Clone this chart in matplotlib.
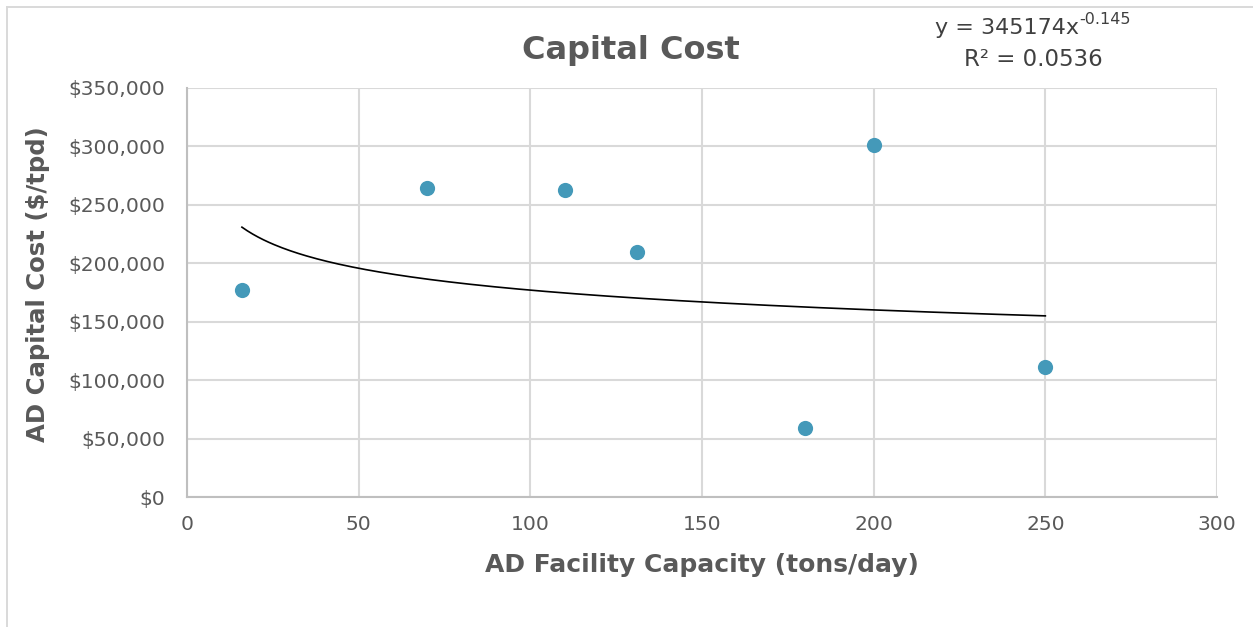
import numpy as np
import matplotlib.pyplot as plt
from matplotlib.lines import Line2D
from matplotlib.ticker import FuncFormatter

# facility capacity (tons/day) and capital cost ($/tpd)
capacity = [16, 70, 110, 131, 180, 200, 250]
capital_cost = [177000, 264500, 262700, 209700, 59000, 301500, 111200]

# power trendline y = a * x^b
fit_a = 345174
fit_b = -0.145
fit_r2 = 0.0536

plt.rcParams['font.family'] = ['DejaVu Sans']
text_gray = '#595959'
grid_gray = '#d9d9d9'
W, H = 1253, 627

fig = plt.figure(figsize=(W / 100, H / 100), dpi=100)
ax = fig.add_axes([187 / W, 1 - 497 / H, 1030 / W, 409 / H])

# outer chart frame: top and left edge
fig.lines.append(Line2D([7 / W, 1], [1 - 7 / H, 1 - 7 / H], transform=fig.transFigure,
                        color=grid_gray, linewidth=1.4))
fig.lines.append(Line2D([7 / W, 7 / W], [0, 1 - 7 / H], transform=fig.transFigure,
                        color=grid_gray, linewidth=1.4))

xs = np.linspace(min(capacity), max(capacity), 300)
ax.plot(xs, fit_a * xs ** fit_b, color='black', linewidth=1.2, zorder=2)
ax.scatter(capacity, capital_cost, s=120, color='#4499b9', zorder=3, linewidths=0)

ax.set_xlim(0, 300)
ax.set_ylim(0, 350000)
ax.set_xticks(range(0, 301, 50))
ax.set_yticks(range(0, 350001, 50000))
ax.yaxis.set_major_formatter(FuncFormatter(lambda v, p: '${:,.0f}'.format(v)))
ax.grid(True, color=grid_gray, linewidth=1.5)
ax.set_axisbelow(True)
for s in ['top', 'right']:
    ax.spines[s].set_visible(False)
for s in ['left', 'bottom']:
    ax.spines[s].set_color('#bfbfbf')
    ax.spines[s].set_linewidth(1.5)
ax.tick_params(length=0, labelsize=14.6, labelcolor=text_gray)
ax.tick_params(axis='y', pad=15.5)
ax.tick_params(axis='x', pad=13)

fig.text(702 / W, 1 - 565 / H, 'AD Facility Capacity (tons/day)', fontsize=18,
         fontweight='bold', color=text_gray, ha='center', va='center')
fig.text(38 / W, 1 - 284 / H, 'AD Capital Cost ($/tpd)', fontsize=17.6,
         fontweight='bold', color=text_gray, ha='center', va='center',
         rotation=90)

fig.text(631 / W, 1 - 51 / H, 'Capital Cost', fontsize=23, fontweight='bold',
         color=text_gray, ha='center', va='center')

# trendline equation with a separate superscript for the exponent
eq = fig.text(935 / W, 1 - 28 / H, 'y = {}x'.format(fit_a), fontsize=16,
              color='#404040', ha='left', va='center')
ax.annotate('{}'.format(fit_b), xy=(1, 1), xycoords=eq, xytext=(0.5, 4),
            textcoords='offset points', fontsize=11.5, color='#404040',
            ha='left', va='top')
fig.text(1033 / W, 1 - 59 / H, 'R² = {}'.format(fit_r2),
         fontsize=16.5, color='#404040', ha='center', va='center')

fig.savefig('out.png', dpi=100)
